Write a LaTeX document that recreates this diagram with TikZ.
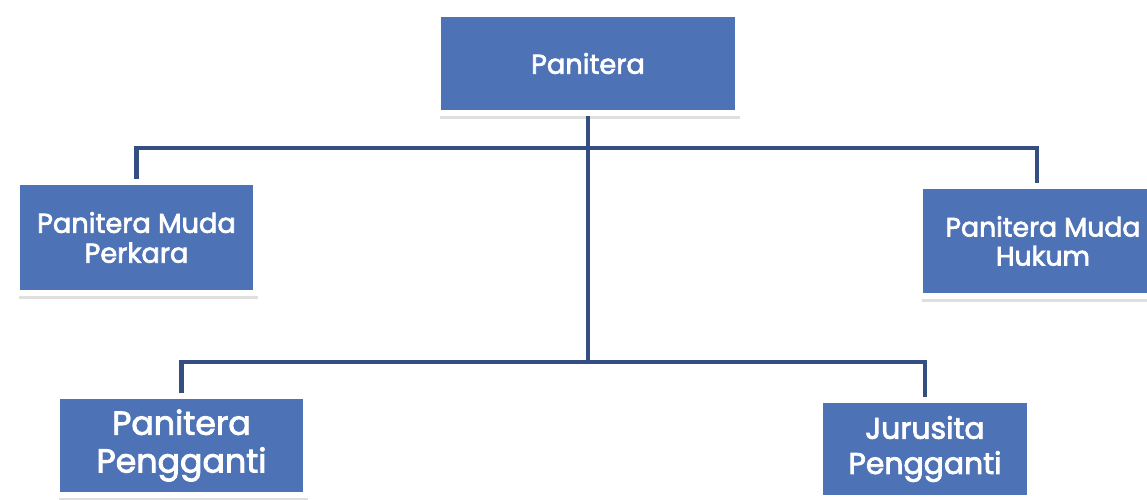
\documentclass[tikz,border=0pt]{standalone}
\usepackage{fontspec}
\setmainfont{Poppins}
\newfontfamily\unitfont{Poppins}[FakeBold=2.6]
\usetikzlibrary{positioning, calc, shadows}

\definecolor{unitblue}{RGB}{78,114,182}
\definecolor{linkblue}{RGB}{52,78,130}

\begin{document}
\begin{tikzpicture}[
    x=0.2mm, y=-0.2mm,
    every node/.style={font=\unitfont},
    % Blue unit box with white frame
    unit/.style={rectangle, fill=unitblue, draw=white, line width=1.2mm,
                 text=white, align=center, inner sep=0pt,
                 drop shadow={shadow xshift=0.3mm, shadow yshift=-1.1mm,
                              opacity=0.25}},
    boxsize/.style 2 args={minimum width=#1*0.2mm, minimum height=#2*0.2mm},
    % Text size and line spacing per box
    txt/.style 2 args={font=\unitfont\fontsize{#1}{#2}\selectfont},
    % Connector line
    link/.style={draw=linkblue, line width=0.85mm}
]
\useasboundingbox (0,0) rectangle (1147,500);

% === NODES ===

% Head at top center
\node[unit, boxsize={300}{99}, txt={15.5}{18}] (panitera) at (588,63.5) {Panitera};

% Middle row
\node[unit, boxsize={239}{111}, txt={15.5}{17}] (pmperkara) at (136.5,237.5) {Panitera Muda\\Perkara};
\node[unit, boxsize={246}{110}, txt={15.2}{16.5}] (pmhukum) at (1043,241) {Panitera Muda\\Hukum};

% Bottom row
\node[unit, boxsize={249}{99}, txt={18.9}{21.5}] (ppengganti) at (181.5,445.5) {Panitera\\Pengganti};
\node[unit, boxsize={210}{98}, txt={17}{20}] (jsita) at (925,449) {Jurusita\\Pengganti};

% Bus points on the trunk
\coordinate (busmid) at (588,148);
\coordinate (buslow) at (588,362);

% === CONNECTORS ===

% Trunk down from Panitera
\draw[link] (panitera.south) -- (buslow);

% Middle branch
\draw[link] (pmperkara.north) |- (busmid) -| ([xshift=-1.2mm]pmhukum.north);

% Lower branch
\draw[link] (ppengganti.north) |- (buslow) -| (jsita.north);

\end{tikzpicture}
\end{document}
